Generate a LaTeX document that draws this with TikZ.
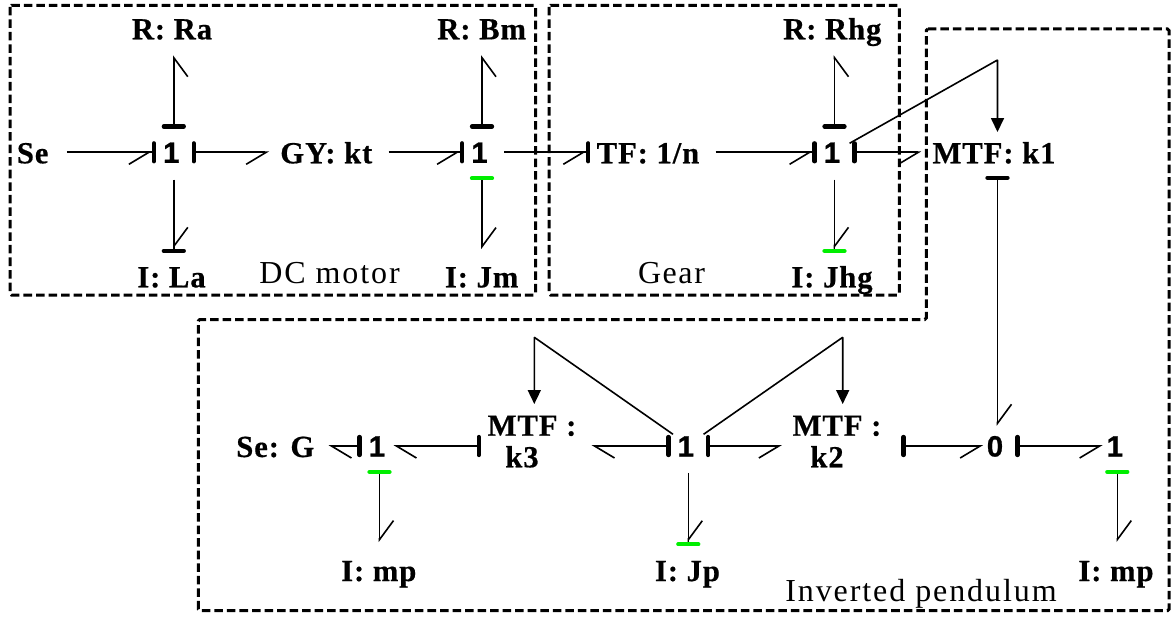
\documentclass[tikz,border=0pt]{standalone}
\usepackage{fontspec}
\setmainfont{Liberation Serif}
\newfontfamily\elemfont[LetterSpace=3,BoldFeatures={FakeBold=0.5}]{Liberation Serif}
\newfontfamily\juncfont[BoldFeatures={FakeBold=0.8}]{Liberation Sans}
\usetikzlibrary{arrows.meta}
\definecolor{bggreen}{HTML}{00EE00}
\newlength\px
\setlength\px{0.75pt}

\begin{document}
\begin{tikzpicture}[
    x=0.75pt, y=-0.75pt,
    barbR/.tip={Straight Barb[right,sep=0pt,length=15pt,width=18pt]},
    barbL/.tip={Straight Barb[left,sep=0pt,length=15pt,width=18pt]},
    vbarbR/.tip={Straight Barb[right,sep=0pt,length=14.25pt,width=21pt]},
    vbarbL/.tip={Straight Barb[left,sep=0pt,length=14.25pt,width=21pt]},
    hstroke/.tip={Bar[width=13.5pt,line width=3.2pt,round]},
    vstroke/.tip={Bar[width=15pt,line width=3.2pt,round]},
    gstroke/.tip={Bar[width=15pt,line width=3.2pt,round,color=bggreen]},
    elem/.style={font=\fontsize{23}{23.7}\selectfont\elemfont\bfseries, inner sep=0pt,
                 text height=22\px, text depth=0pt, align=center},
    mtf/.style={elem, text height=42.6\px},
    junc/.style={font=\fontsize{22}{24}\selectfont\juncfont\bfseries, inner sep=0pt,
                 text height=21\px, text depth=0pt,
                 minimum width=35\px, minimum height=47\px,
                 execute at end node={\kern5\px}},
    lbl/.style={font=\fontsize{24}{26}\selectfont, inner sep=0pt, text height=22\px, text depth=0pt},
    bond/.style={line width=1.6\px},
    signal/.style={line width=1.6\px, line join=bevel, -{Triangle[length=10.5pt,width=9.75pt]}},
    group/.style={line width=3\px, dash pattern=on 6.4pt off 3pt, rounded corners=1.5\px},
  ]
  \useasboundingbox (0,0) rectangle (1172,617);

  % Subsystem frames
  \draw[group] (10,5.3) rectangle (535.7,295);
  \draw[group] (549,5.3) rectangle (899.3,295);
  \draw[group] (926.3,29) -- (1169,29) -- (1169,610.7) -- (198.3,610.7) -- (198.3,319.5) -- (926.3,319.5) -- cycle;

  % Elements, top row
  \node[elem] (se)   at (32.7,152.3)  {Se};
  \node[junc] (one1) at (173.8,152.3) {1};
  \node[elem] (gy)   at (326.3,152.3) {GY: kt};
  \node[junc] (one2) at (482,152.3)   {1};
  \node[elem] (tf)   at (648,152.3)   {TF: 1/n};
  \node[junc] (one3) at (834.5,152.3) {1};
  \node[elem] (k1)   at (994,152.3)   {MTF: k1};
  \node[elem] (ra)   at (172,28.3)    {R: Ra};
  \node[elem] (bm)   at (481.7,28.3)  {R: Bm};
  \node[elem] (rhg)  at (832.3,28.3)  {R: Rhg};
  \node[elem] (la)   at (171.5,276.3) {I: La};
  \node[elem] (jm)   at (481.7,276.3) {I: Jm};
  \node[elem] (jhg)  at (832,276.3)   {I: Jhg};

  % Elements, bottom row
  \node[elem] (seg)  at (275.3,446)   {Se: G};
  \node[junc] (one4) at (379.5,446)   {1};
  \node[mtf]  (k3)   at (532,446)     {MTF :\\k3\kern20\px};
  \node[junc] (one5) at (688.3,446)   {1};
  \node[mtf]  (k2)   at (837,446)     {MTF :\\k2\kern20\px};
  \node[junc] (zero) at (997.5,446)   {0};
  \node[junc] (one6) at (1117.3,446)  {1};
  \node[elem] (mp1)  at (378.8,570)   {I: mp};
  \node[elem] (jp)   at (687.5,570)   {I: Jp};
  \node[elem] (mp2)  at (1116,570)    {I: mp};

  % Frame captions
  \node[lbl, font=\fontsize{24}{26}\selectfont\addfontfeature{LetterSpace=6}] (dcl) at (329.5,272) {DC motor};
  \node[lbl, font=\fontsize{24}{26}\selectfont\addfontfeature{LetterSpace=5}] (gel) at (671.5,272) {Gear};
  \node[lbl, font=\fontsize{24}{26}\selectfont\addfontfeature{LetterSpace=6}] (ipl) at (921,590.7) {Inverted pendulum};

  % Bonds, top row
  \draw[bond, -{barbR[] hstroke[]}, shorten <=18\px] (se.east) -- (one1.west);
  \draw[bond, {hstroke[]}-{barbR[]}, shorten >=11\px] (one1.east) -- (gy.west);
  \draw[bond, -{barbR[] hstroke[]}, shorten <=16\px] (gy.east) -- (one2.west);
  \draw[bond, -{barbR[] hstroke[]}, shorten <=4.5\px, shorten >=6\px] (one2.east) -- (tf.west);
  \draw[bond, -{barbR[] hstroke[]}, shorten <=16\px] (tf.east) -- (one3.west);
  \draw[bond, {hstroke[]}-{barbR[]}, shorten >=11\px] (one3.east) -- (k1.west);

  % Bonds up and down
  \draw[bond, {vstroke[]}-{vbarbR[]}, shorten >=15.7\px] (one1.north) -- (one1.north |- ra.south);
  \draw[bond, {vstroke[]}-{vbarbR[]}, shorten >=15.7\px] (one2.north) -- (one2.north |- bm.south);
  \draw[bond, {vstroke[]}-{vbarbR[]}, shorten >=15.7\px] (one3.north) -- (one3.north |- rhg.south);
  \draw[bond, -{vbarbL[] vstroke[]}, shorten <=3.5\px, shorten >=12\px] (one1.south) -- (one1.south |- la.north);
  \draw[bond, {gstroke[]}-{vbarbL[]}, shorten >=16\px] (one2.south) -- (one2.south |- jm.north);
  \draw[bond, -{vbarbL[] gstroke[]}, shorten <=3.5\px, shorten >=12\px] (one3.south) -- (one3.south |- jhg.north);

  % Signals to the modulated transformers
  \coordinate (sigk1) at (997.5,60);
  \coordinate (sigk3) at (534.3,337.3);
  \coordinate (sigk2) at (842.7,337.3);
  \draw[signal, shorten >=9\px] ([shift={(-2.7\px,9\px)}]one3.east) -- (sigk1) -- (sigk1 |- k1.north);
  \draw[signal, shorten >=20.4\px] ([shift={(2.5\px,11.7\px)}]one5.west) -- (sigk3) -- (sigk3 |- k3.north);
  \draw[signal, shorten >=20.4\px] ([shift={(-2.5\px,11.7\px)}]one5.east) -- (sigk2) -- (sigk2 |- k2.north);

  % Bonds, bottom row
  \draw[bond, {vstroke[]}-{vbarbL[]}, shorten <=12\px, shorten >=-3.5\px] (k1.south -| sigk1) -- (zero.north);
  \draw[bond, {hstroke[]}-{barbL[]}, shorten >=14\px] (one4.west) -- (seg.east);
  \draw[bond, {hstroke[]}-{barbL[]}, shorten <=6.5\px, shorten >=-3.7\px] (k3.west) -- (one4.east);
  \draw[bond, {hstroke[]}-{barbL[]}, shorten >=15\px] (one5.west) -- (k3.east);
  \draw[bond, {hstroke[]}-{barbR[]}, shorten >=10.6\px] (one5.east) -- (k2.west);
  \draw[bond, {hstroke[]}-{barbR[]}, shorten <=19.6\px, shorten >=-3.3\px] (k2.east) -- (zero.west);
  \draw[bond, {hstroke[]}-{barbR[]}, shorten >=-3\px] (zero.east) -- (one6.west);
  \draw[bond, {gstroke[]}-{vbarbL[]}, shorten >=16.7\px] (one4.south) -- (one4.south |- mp1.north);
  \draw[bond, -{vbarbL[] gstroke[]}, shorten <=3.2\px, shorten >=12.3\px] (one5.south) -- (one5.south |- jp.north);
  \draw[bond, {gstroke[]}-{vbarbL[]}, shorten >=16.7\px] (one6.south) -- (one6.south |- mp2.north);
\end{tikzpicture}
\end{document}
